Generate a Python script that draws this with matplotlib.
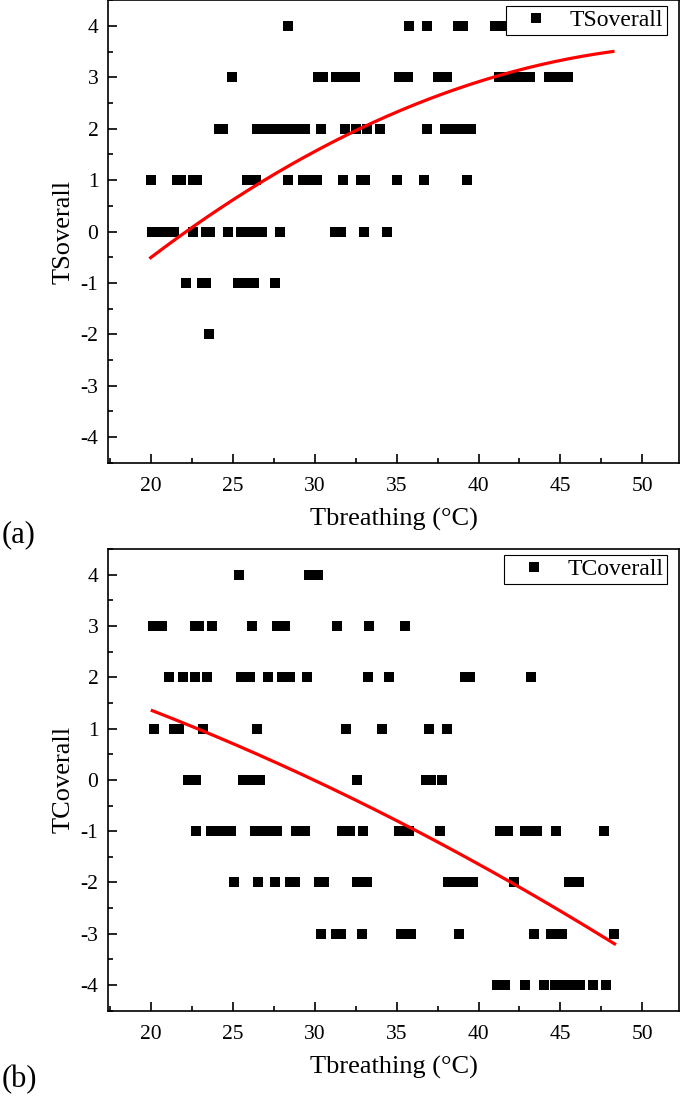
import numpy as np
import matplotlib
matplotlib.use("Agg")
import matplotlib.pyplot as plt
from matplotlib.ticker import MultipleLocator

plt.rcParams['font.family'] = ['Liberation Serif', 'DejaVu Serif']
plt.rcParams['axes.unicode_minus'] = False

# (a) thermal sensation votes vs breathing-zone temperature
ts_temp = [
    28.35, 35.77, 36.87, 38.72, 39.06, 41.0, 41.4,
    24.97, 30.18, 30.49, 31.28, 31.85, 32.46, 35.16, 35.69, 37.54, 38.07,
    41.22, 41.65, 42.05, 42.68, 43.13, 44.3, 44.85, 45.43,
    24.16, 24.39, 26.46, 26.97, 27.48, 27.99, 28.49, 29.0, 29.41, 30.37,
    31.83, 32.5, 33.17, 34.0, 36.87, 37.96, 38.49, 39.02, 39.55,
    20.02, 21.58, 21.85, 22.6, 22.84, 25.89, 26.4, 28.39, 29.3, 29.81,
    30.12, 31.74, 32.82, 33.1, 35.04, 36.7, 39.3,
    20.06, 20.52, 20.98, 21.4, 22.58, 23.37, 23.62, 24.73, 25.49, 25.95,
    26.4, 26.77, 27.88, 31.24, 31.59, 33.02, 34.43,
    22.17, 23.11, 23.37, 25.3, 25.79, 26.28, 27.58,
    23.58,
]
ts_vote = [4] * 7 + [3] * 18 + [2] * 19 + [1] * 17 + [0] * 17 + [-1] * 7 + [-2] * 1

# points in (a)
ts_fit_x = [20.0, 22.45, 26.9, 32.55, 41.1, 48.2]
ts_fit_y = [-0.47, 0.0, 1.0, 2.0, 3.0, 3.51]

# (b) thermal comfort votes
tc_temp = [
    25.4, 29.63, 30.22,
    20.14, 20.71, 22.7, 22.96, 23.72, 26.18, 27.68, 28.21, 31.34, 33.31, 35.52,
    21.14, 21.95, 22.72, 23.45, 25.49, 26.05, 27.15, 27.99, 28.49, 29.53,
    33.23, 34.55, 39.2, 39.5, 43.23,
    20.18, 21.44, 21.75, 23.19, 26.48, 31.89, 34.12, 36.99, 38.09,
    22.27, 22.78, 25.61, 26.12, 26.66, 32.58, 36.8, 37.1, 37.8,
    22.78, 23.68, 24.12, 24.59, 24.88, 26.38, 26.87, 27.32, 27.72, 28.88,
    29.41, 31.68, 32.19, 32.96, 35.14, 35.77, 37.64, 41.32, 41.77, 42.82,
    43.23, 43.54, 44.73, 47.64,
    25.1, 26.56, 27.58, 28.48, 28.8, 30.28, 30.59, 32.58, 33.17, 38.15,
    38.7, 39.23, 39.67, 42.15, 45.52, 46.13,
    30.38, 31.32, 31.6, 32.89, 35.28, 35.91, 38.8, 43.37, 44.41, 44.82,
    45.12, 48.25,
    41.1, 41.59, 42.82, 43.98, 44.69, 45.26, 45.77, 46.18, 46.99, 47.8,
]
tc_vote = ([4] * 3 + [3] * 11 + [2] * 15 + [1] * 9 + [0] * 9 + [-1] * 24
           + [-2] * 16 + [-3] * 12 + [-4] * 10)

tc_fit_x = [20.1, 23.0, 29.75, 36.35, 42.0, 47.3, 48.3]
tc_fit_y = [1.34, 1.0, 0.0, -1.0, -2.0, -3.0, -3.2]

xticks = [20, 25, 30, 35, 40, 45, 50]
yticks = [-4, -3, -2, -1, 0, 1, 2, 3, 4]

fig = plt.figure(figsize=(6.85, 10.96), dpi=100)
ax_a = fig.add_axes([0.1577, 0.5778, 0.834, 0.4219])
ax_b = fig.add_axes([0.1577, 0.0778, 0.834, 0.4213])


def draw_panel(ax, temp, vote, fit_x, fit_y, name):
    ax.plot(temp, vote, 's', color='black', ms=7.4, mew=0, label=name)
    # smooth the read curve points with a 2nd order fit, like the original
    coef = np.polyfit(fit_x, fit_y, 2)
    xs = np.linspace(fit_x[0], fit_x[-1], 200)
    ax.plot(xs, np.polyval(coef, xs), color='red', lw=2.3)

    ax.set_xlim(17.4, 52.25)
    ax.set_ylim(-4.5, 4.5)
    ax.set_xticks(xticks)
    ax.set_yticks(yticks)
    ax.xaxis.set_minor_locator(MultipleLocator(2.5))
    ax.yaxis.set_minor_locator(MultipleLocator(0.5))
    ax.tick_params(which='both', direction='in', width=1.2, labelsize=15.5)
    ax.tick_params(axis='x', pad=10)
    ax.tick_params(axis='y', pad=7)
    ax.tick_params(which='major', length=6.5)
    ax.tick_params(which='minor', length=3.6)
    for sp in ax.spines.values():
        sp.set_linewidth(1.2)
    ax.set_xlabel('Tbreathing (°C)', fontsize=19, labelpad=8.5)
    ax.set_ylabel(name, fontsize=19, labelpad=4)
    leg = ax.legend(loc='upper right', bbox_to_anchor=(0.9785, 0.987), borderaxespad=0,
                    fontsize=17, fancybox=False, framealpha=1, edgecolor='black',
                    handlelength=2.25, handletextpad=0.3, borderpad=0.15)
    leg.get_frame().set_linewidth(0.8)


draw_panel(ax_a, ts_temp, ts_vote, ts_fit_x, ts_fit_y, 'TSoverall')
draw_panel(ax_b, tc_temp, tc_vote, tc_fit_x, tc_fit_y, 'TCoverall')

fig.text(0.002, 0.512, '(a)', fontsize=22, va='center', ha='left')
fig.text(0.002, 0.0146, '(b)', fontsize=22, va='center', ha='left')

fig.savefig('out.png', dpi=100)
